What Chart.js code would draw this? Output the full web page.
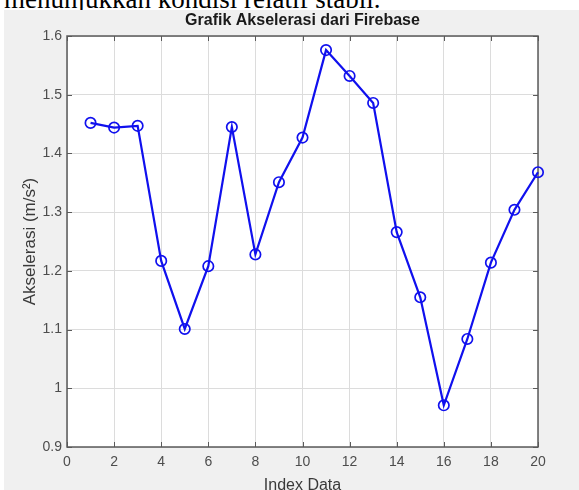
<!DOCTYPE html>
<html>
<head>
<meta charset="utf-8">
<script src="https://cdn.jsdelivr.net/npm/chart.js@4/dist/chart.umd.min.js"></script>
<style>
  html, body { margin: 0; padding: 0; background: #fff; overflow: hidden; width: 579px; height: 490px; }
  #caption { position: absolute; left: 4px; top: -14.5px; font: 27px/27px "Liberation Serif", "Times New Roman", serif; color: #000; white-space: nowrap; }
  #fig { position: absolute; left: 4px; top: 10px; width: 575px; height: 490px; background: #f0f0f0; }
</style>
</head>
<body>
<div id="caption">menunjukkan kondisi relatif stabil.</div>
<div id="fig"><canvas id="myChart"></canvas></div>
<script>
const indexData = [1, 2, 3, 4, 5, 6, 7, 8, 9, 10, 11, 12, 13, 14, 15, 16, 17, 18, 19, 20];
const akselerasi = [1.452, 1.444, 1.447, 1.217, 1.101, 1.208, 1.445, 1.228, 1.351, 1.427,
                    1.576, 1.532, 1.486, 1.266, 1.155, 0.971, 1.084, 1.214, 1.304, 1.368];
const xTicks = [0, 2, 4, 6, 8, 10, 12, 14, 16, 18, 20];
const yTicks = [0.9, 1.0, 1.1, 1.2, 1.3, 1.4, 1.5, 1.6];

// box + inward tick marks, MATLAB style
const axesBox = {
    id: 'axesBox',
    beforeDatasetsDraw(chart) {
        const { ctx, chartArea: a, scales } = chart;
        const len = 5;
        ctx.save();
        ctx.strokeStyle = '#5a5a5a';
        ctx.lineWidth = 1;
        ctx.beginPath();
        xTicks.forEach(v => {
            const x = Math.round(scales.x.getPixelForValue(v)) + 0.5;
            ctx.moveTo(x, a.bottom); ctx.lineTo(x, a.bottom - len);
            ctx.moveTo(x, a.top); ctx.lineTo(x, a.top + len);
        });
        yTicks.forEach(v => {
            const y = Math.round(scales.y.getPixelForValue(v)) + 0.5;
            ctx.moveTo(a.left, y); ctx.lineTo(a.left + len, y);
            ctx.moveTo(a.right, y); ctx.lineTo(a.right - len, y);
        });
        ctx.stroke();
        ctx.lineWidth = 1.5;
        ctx.strokeRect(a.left, a.top, a.right - a.left, a.bottom - a.top);
        ctx.restore();
    }
};

const plotBg = {
    id: 'plotBg',
    beforeDraw(chart) {
        const { ctx, chartArea: a } = chart;
        ctx.save();
        ctx.fillStyle = '#ffffff';
        ctx.fillRect(a.left, a.top, a.right - a.left, a.bottom - a.top);
        ctx.restore();
    }
};

const fam = '"Liberation Sans", Arial, sans-serif';
const tickFont = { family: fam, size: 14 };

new Chart(document.getElementById('myChart'), {
    type: 'line',
    data: {
        datasets: [{
            data: indexData.map((x, i) => ({ x: x, y: akselerasi[i] })),
            borderColor: '#1010ee',
            borderWidth: 2.2,
            pointRadius: 5.2,
            pointBorderWidth: 1.7,
            pointBackgroundColor: 'rgba(0,0,0,0)',
            pointBorderColor: '#1010ee',
            tension: 0,
            clip: false
        }]
    },
    options: {
        animation: false,
        responsive: true,
        maintainAspectRatio: false,
        layout: { padding: { left: 0, right: 41, top: 0, bottom: 0 } },
        plugins: {
            legend: { display: false },
            tooltip: { enabled: false },
            title: {
                display: true,
                fullSize: false,
                text: 'Grafik Akselerasi dari Firebase',
                color: '#1a1a1a',
                font: { family: fam, size: 16, weight: 'bold' },
                padding: { top: 1, bottom: 5.8 }
            }
        },
        scales: {
            x: {
                type: 'linear',
                min: 0, max: 20,
                afterFit: s => { s.height = 53; },
                afterBuildTicks: s => { s.ticks = xTicks.map(v => ({ value: v })); },
                grid: { color: '#dcdcdc', drawTicks: false },
                border: { display: false },
                ticks: { color: '#4d4d4d', font: tickFont, padding: 7, maxRotation: 0 },
                title: {
                    display: true, text: 'Index Data', color: '#3a3a3a',
                    font: { family: fam, size: 16 },
                    padding: { top: 0, bottom: 4.5 }
                }
            },
            y: {
                min: 0.9, max: 1.6,
                afterFit: s => { s.width = 63; },
                afterBuildTicks: s => { s.ticks = yTicks.map(v => ({ value: v })); },
                grid: { color: '#dcdcdc', drawTicks: false },
                border: { display: false },
                ticks: { color: '#4d4d4d', font: tickFont, padding: 5, callback: v => String(+v.toFixed(1)) },
                title: {
                    display: true, text: 'Akselerasi (m/s²)', color: '#3a3a3a',
                    font: { family: fam, size: 17 },
                    padding: { top: 16, bottom: 0 }
                }
            }
        }
    },
    plugins: [plotBg, axesBox]
});
</script>
</body>
</html>
